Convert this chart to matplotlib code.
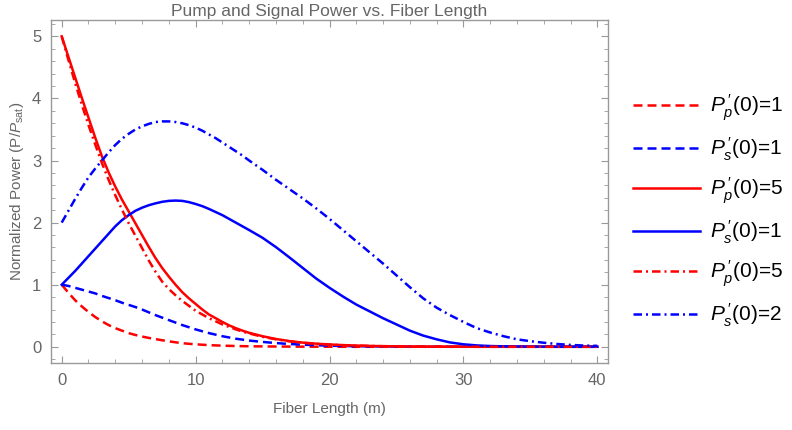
import numpy as np
import matplotlib.pyplot as plt
from matplotlib.ticker import MultipleLocator

plt.rcParams['font.family'] = ['Liberation Sans', 'DejaVu Sans']
plt.rcParams['mathtext.fontset'] = 'custom'
plt.rcParams['mathtext.rm'] = 'Liberation Sans'
plt.rcParams['mathtext.it'] = 'Liberation Sans:italic'

# fiber length grid (m): half-metre steps up to 14 m, then 1 m
z = [0, 0.5, 1, 1.5, 2, 2.5, 3, 3.5, 4, 4.5, 5, 5.5, 6, 6.5, 7, 7.5,
     8, 8.5, 9, 9.5, 10, 10.5, 11, 11.5, 12, 12.5, 13, 13.5, 14,
     15, 16, 17, 18, 19, 20, 21, 22, 23, 24, 25, 26, 27, 28, 29, 30,
     31, 32, 33, 34, 35, 36, 37, 38, 39, 40]

# pump / signal power, P/Psat
pp_1 = [1.00, 0.87, 0.75, 0.65, 0.56, 0.48, 0.41, 0.35, 0.30, 0.26, 0.22,
        0.19, 0.165, 0.143, 0.124, 0.105, 0.088, 0.072, 0.058, 0.048, 0.040,
        0.033, 0.027, 0.022, 0.018, 0.015, 0.012, 0.010, 0.008,
        0.006, 0.004, 0.003, 0.002, 0.001, 0.001, 0, 0, 0, 0, 0, 0, 0,
        0, 0, 0, 0, 0, 0, 0, 0, 0, 0, 0, 0, 0]
ps_1 = [1.00, 0.98, 0.95, 0.92, 0.89, 0.86, 0.82, 0.785, 0.75, 0.71, 0.675,
        0.64, 0.60, 0.555, 0.51, 0.47, 0.43, 0.39, 0.35, 0.315, 0.28,
        0.25, 0.22, 0.195, 0.17, 0.15, 0.13, 0.115, 0.10,
        0.078, 0.060, 0.045, 0.034, 0.025, 0.018, 0.013, 0.009, 0.007,
        0.005, 0.003, 0.002, 0.001, 0.001, 0, 0, 0, 0, 0, 0, 0, 0,
        0, 0, 0, 0]
pp_5 = [5.00, 4.67, 4.34, 4.01, 3.69, 3.37, 3.07, 2.81, 2.58, 2.37, 2.18,
        1.99, 1.80, 1.61, 1.43, 1.27, 1.13, 1.00, 0.88, 0.78, 0.69,
        0.60, 0.52, 0.46, 0.40, 0.345, 0.30, 0.26, 0.225,
        0.17, 0.125, 0.092, 0.067, 0.050, 0.037, 0.027, 0.020, 0.014,
        0.010, 0.007, 0.005, 0.003, 0.002, 0.001, 0.001, 0, 0, 0, 0, 0,
        0, 0, 0, 0, 0]
ps_1b = [1.00, 1.11, 1.22, 1.34, 1.46, 1.58, 1.70, 1.82, 1.94, 2.04, 2.12,
         2.19, 2.24, 2.28, 2.31, 2.335, 2.35, 2.355, 2.35, 2.33, 2.30,
         2.265, 2.22, 2.17, 2.12, 2.06, 2.00, 1.94, 1.88,
         1.755, 1.605, 1.44, 1.27, 1.10, 0.95, 0.81, 0.68, 0.57, 0.46,
         0.36, 0.26, 0.18, 0.12, 0.07, 0.04, 0.022, 0.012, 0.007, 0.004,
         0.002, 0.001, 0, 0, 0, 0]
pp_5b = [5.00, 4.62, 4.25, 3.90, 3.57, 3.26, 2.96, 2.69, 2.44, 2.21, 1.99,
         1.79, 1.59, 1.39, 1.21, 1.05, 0.93, 0.83, 0.74, 0.66, 0.58,
         0.52, 0.46, 0.41, 0.36, 0.32, 0.28, 0.245, 0.215,
         0.16, 0.12, 0.088, 0.065, 0.048, 0.035, 0.025, 0.018, 0.013,
         0.009, 0.006, 0.004, 0.003, 0.002, 0.001, 0.001, 0, 0, 0, 0, 0,
         0, 0, 0, 0, 0]
ps_2 = [2.00, 2.19, 2.38, 2.56, 2.73, 2.87, 3.00, 3.13, 3.25, 3.35, 3.43,
        3.50, 3.55, 3.59, 3.62, 3.63, 3.63, 3.62, 3.60, 3.57, 3.53,
        3.48, 3.42, 3.36, 3.29, 3.22, 3.15, 3.08, 3.00,
        2.85, 2.69, 2.54, 2.39, 2.23, 2.06, 1.88, 1.70, 1.52, 1.34,
        1.15, 0.96, 0.78, 0.63, 0.51, 0.40, 0.30, 0.23, 0.17, 0.12,
        0.09, 0.065, 0.045, 0.03, 0.02, 0.015]

labels = [r"$P_p^{\,\prime}$(0)=1", r"$P_s^{\,\prime}$(0)=1",
          r"$P_p^{\,\prime}$(0)=5", r"$P_s^{\,\prime}$(0)=1",
          r"$P_p^{\,\prime}$(0)=5", r"$P_s^{\,\prime}$(0)=2"]

RED = (1, 0, 0)
BLUE = (0, 0, 1)
DASH = (3.6, 2.0)
DASHDOT = (3.4, 1.6, 0.8, 1.6)
GRAY = "#999999"
TXT = "#666666"

fig = plt.figure(figsize=(7.92, 4.30), dpi=100)
ax = fig.add_axes([0.0644, 0.156, 0.7033, 0.797])

series = [
    (pp_1, RED, DASH),
    (ps_1, BLUE, DASH),
    (pp_5, RED, None),
    (ps_1b, BLUE, None),
    (pp_5b, RED, DASHDOT),
    (ps_2, BLUE, DASHDOT),
]
for (vals, col, dash), lab in zip(series, labels):
    line, = ax.plot(z, vals, color=col, lw=1.8, label=lab)
    if dash is not None:
        line.set_dashes(dash)

ax.set_xlim(-0.8, 40.8)
ax.set_ylim(-0.26, 5.26)
ax.xaxis.set_major_locator(MultipleLocator(10))
ax.xaxis.set_minor_locator(MultipleLocator(2))
ax.yaxis.set_major_locator(MultipleLocator(1))
ax.yaxis.set_minor_locator(MultipleLocator(0.2))
ax.tick_params(which='both', direction='in', top=True, right=True,
               color=GRAY, labelcolor=TXT, labelsize=12)
ax.tick_params(which='major', length=5, width=0.8, pad=7)
ax.tick_params(which='minor', length=3, width=0.6)
for s in ax.spines.values():
    s.set_color(GRAY)
    s.set_linewidth(1.0)

ax.set_title("Pump and Signal Power vs. Fiber Length", color=TXT,
             fontsize=12.5, pad=3)
ax.set_xlabel("Fiber Length (m)", color=TXT, fontsize=11, labelpad=10)
ax.set_ylabel(r"Normalized Power (P/$P_{\mathrm{sat}}$)", color=TXT,
              fontsize=11, labelpad=4)

fig.legend(loc='center left', bbox_to_anchor=(0.776, 0.511), frameon=False,
           fontsize=15, handlelength=3.2, labelspacing=0.6,
           handletextpad=0.5)

fig.savefig("out.png", dpi=100)
